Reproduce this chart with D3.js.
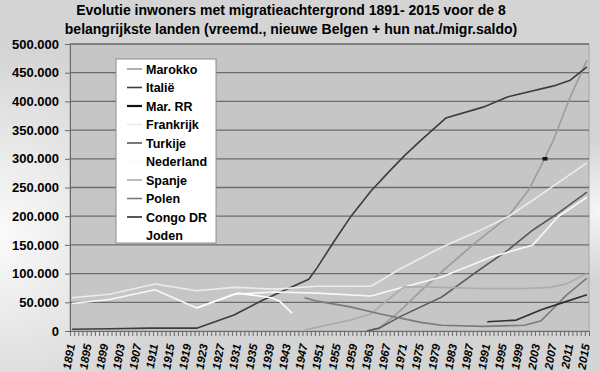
<!DOCTYPE html>
<html>
<head>
<meta charset="utf-8">
<script src="https://cdn.jsdelivr.net/npm/d3@7"></script>
<style>
    body { margin: 0; background: #d4d4d4; }
    svg text { font-family: "Liberation Sans", Arial, sans-serif; font-weight: bold; fill: #000; }
</style>
</head>
<body>
<div id="grafiek"></div>
<script>
// ---------- DATA (waarden in duizenden) ----------
var titelRegels = [
    'Evolutie inwoners met migratieachtergrond 1891- 2015 voor de 8',
    'belangrijkste landen (vreemd., nieuwe Belgen + hun nat./migr.saldo)'
];
var jaarLabels = [1891, 1895, 1899, 1903, 1907, 1911, 1915, 1919, 1923, 1927, 1931, 1935, 1939, 1943, 1947, 1951,
    1955, 1959, 1963, 1967, 1971, 1975, 1979, 1983, 1987, 1991, 1995, 1999, 2003, 2007, 2011, 2015];
var yTicks = [0, 50, 100, 150, 200, 250, 300, 350, 400, 450, 500];

var reeksNamen = ['Marokko', 'Italië', 'Mar. RR', 'Frankrijk', 'Turkije', 'Nederland', 'Spanje', 'Polen', 'Congo DR', 'Joden'];
var reeksKleuren = ['#9c9c9c', '#3c3c3c', '#111111', '#ececec', '#585858', '#f8f8f8', '#acacac', '#7a7a7a', '#2e2e2e', '#ffffff'];

var marokko = [[1962, 0], [1965, 5], [1970, 35], [1975, 70], [1980, 103], [1988, 153], [1996, 199], [2001, 246],
    [2005, 303], [2007, 334], [2011, 408], [2015, 472]];
var italie = [[1891, 3], [1900, 4], [1910, 5], [1921, 5], [1930, 28], [1937, 54], [1948, 90], [1950, 110], [1954, 155],
    [1958, 198], [1963, 244], [1967, 275], [1971, 305], [1975, 332], [1981, 371], [1990, 390], [1996, 408],
    [2007, 427], [2011, 437], [2015, 460]];
var marRR = [[2004.3, 300], [2005.5, 300]];
var frankrijk = [[1891, 58], [1900, 64], [1911, 82], [1921, 70], [1930, 76], [1940, 73], [1950, 78], [1963, 78],
    [1970, 108], [1980, 146], [1988, 171], [1996, 199], [2002, 228], [2008, 258], [2015, 293]];
var turkije = [[1962, 0], [1965, 5], [1970, 25], [1975, 42], [1980, 59], [1988, 101], [1996, 141], [2002, 176],
    [2008, 205], [2015, 242]];
var nederland = [[1891, 48], [1900, 55], [1911, 72], [1921, 40], [1930, 64], [1940, 68], [1950, 66], [1963, 61],
    [1970, 75], [1980, 94], [1992, 129], [2002, 150], [2008, 199], [2015, 233]];
var spanje = [[1947, 2], [1958, 19], [1963, 30], [1968, 60], [1971, 77], [1980, 76], [1990, 74], [2000, 74],
    [2006, 76], [2010, 82], [2015, 100]];
var polen = [[1947, 58], [1950, 52], [1958, 42], [1965, 30], [1975, 15], [1980, 10], [1990, 8], [2000, 10],
    [2004, 18], [2007, 40], [2010, 62], [2015, 92]];
var congo = [[1991, 16], [1998, 19], [2004, 37], [2009, 49], [2015, 63]];
var joden = [[1921, 40], [1931, 66], [1939, 58], [1941, 52], [1944, 31]];

var reeksData = [marokko, italie, marRR, frankrijk, turkije, nederland, spanje, polen, congo, joden];

// ---------- TEKENEN ----------
var breedte = 600, hoogte = 372;
var links = 70, rechts = 589, boven = 44, onder = 331;

var svg = d3.select('#grafiek').append('svg')
    .attr('width', breedte)
    .attr('height', hoogte);

var defs = svg.append('defs');
var gloed = defs.append('radialGradient').attr('id', 'gloed')
    .attr('gradientUnits', 'userSpaceOnUse')
    .attr('cx', 0).attr('cy', 235).attr('r', 190);
gloed.append('stop').attr('offset', '0%').attr('stop-color', '#fbfbfb');
gloed.append('stop').attr('offset', '100%').attr('stop-color', '#d4d4d4');
var gloedR = defs.append('radialGradient').attr('id', 'gloedR')
    .attr('gradientUnits', 'userSpaceOnUse')
    .attr('cx', 600).attr('cy', 210).attr('r', 70);
gloedR.append('stop').attr('offset', '0%').attr('stop-color', '#ffffff').attr('stop-opacity', 0.8);
gloedR.append('stop').attr('offset', '100%').attr('stop-color', '#ffffff').attr('stop-opacity', 0);

svg.append('rect').attr('width', breedte).attr('height', hoogte).attr('fill', 'url(#gloed)');
svg.append('rect').attr('width', breedte).attr('height', hoogte).attr('fill', 'url(#gloedR)');

// schalen
var x = d3.scaleLinear().domain([1890.5, 2015.5]).range([links, rechts]);
var y = d3.scaleLinear().domain([0, 500]).range([onder, boven]);

// plotgebied
svg.append('rect')
    .attr('x', links).attr('y', boven)
    .attr('width', rechts - links).attr('height', onder - boven)
    .attr('fill', '#c6c6c6')
    .attr('stroke', '#a4a4a4');

// titel
svg.selectAll('.titel').data(titelRegels).enter().append('text')
    .attr('class', 'titel')
    .attr('x', 291)
    .attr('y', function (d, i) { return 15 + i * 19; })
    .attr('text-anchor', 'middle')
    .attr('font-size', 14)
    .text(function (d) { return d; });

// Y-as met rasterlijnen
var nl = d3.formatLocale({ decimal: ',', thousands: '.', grouping: [3], currency: ['€', ''] });
var yAs = svg.append('g')
    .attr('transform', 'translate(' + links + ',0)')
    .call(d3.axisLeft(y).tickValues(yTicks).tickSize(5).tickPadding(6)
        .tickFormat(function (d) { return nl.format(',')(d * 1000); }));
yAs.select('.domain').attr('stroke', '#6a6a6a');
yAs.selectAll('.tick line').attr('stroke', '#6a6a6a');
yAs.selectAll('text').attr('font-size', 13).attr('font-family', null);

svg.append('g').selectAll('line')
    .data(yTicks.slice(1)).enter().append('line')
    .attr('x1', links).attr('x2', rechts)
    .attr('y1', function (d) { return y(d); })
    .attr('y2', function (d) { return y(d); })
    .attr('stroke', '#6c6c6c')
    .attr('stroke-width', 1.3);

// X-as: streepjes tussen de jaren
var grenzen = d3.range(1890.5, 2016, 1);
var xAs = svg.append('g')
    .attr('transform', 'translate(0,' + onder + ')')
    .call(d3.axisBottom(x).tickValues(grenzen).tickSize(5).tickFormat(''));
xAs.select('.domain').attr('stroke', '#6a6a6a');
xAs.selectAll('.tick line').attr('stroke', '#6a6a6a');

// jaartallen (schuin, zoals in het origineel)
svg.append('g').selectAll('text')
    .data(jaarLabels).enter().append('text')
    .attr('transform', function (d) { return 'translate(' + (x(d) - 1) + ',' + (onder + 13) + ') rotate(-80)'; })
    .attr('text-anchor', 'end')
    .attr('dy', '0.35em')
    .attr('font-size', 11.5)
    .attr('font-style', 'italic')
    .text(function (d) { return d; });

// lijnen
var lijn = d3.line()
    .x(function (d) { return x(d[0]); })
    .y(function (d) { return y(d[1]); });

svg.append('g').selectAll('path')
    .data(reeksData).enter().append('path')
    .attr('d', lijn)
    .attr('fill', 'none')
    .attr('stroke', function (d, i) { return reeksKleuren[i]; })
    .attr('stroke-width', function (d, i) { return i === 2 ? 3.5 : 1.6; })
    .attr('stroke-linejoin', 'round');

// legenda
var legenda = svg.append('g').attr('transform', 'translate(116,59)');
legenda.append('rect')
    .attr('width', 100).attr('height', 184)
    .attr('fill', '#ffffff')
    .attr('stroke', '#8c8c8c');
var item = legenda.selectAll('.item')
    .data(reeksNamen).enter().append('g')
    .attr('class', 'item')
    .attr('transform', function (d, i) { return 'translate(0,' + (10 + i * 18.5) + ')'; });
item.append('line')
    .attr('x1', 11).attr('x2', 26)
    .attr('stroke', function (d, i) { return reeksKleuren[i]; })
    .attr('stroke-width', function (d, i) { return i === 2 ? 2.2 : 1.6; });
item.append('text')
    .attr('x', 30)
    .attr('dy', '0.36em')
    .attr('font-size', 12.5)
    .text(function (d) { return d; });
</script>
</body>
</html>
